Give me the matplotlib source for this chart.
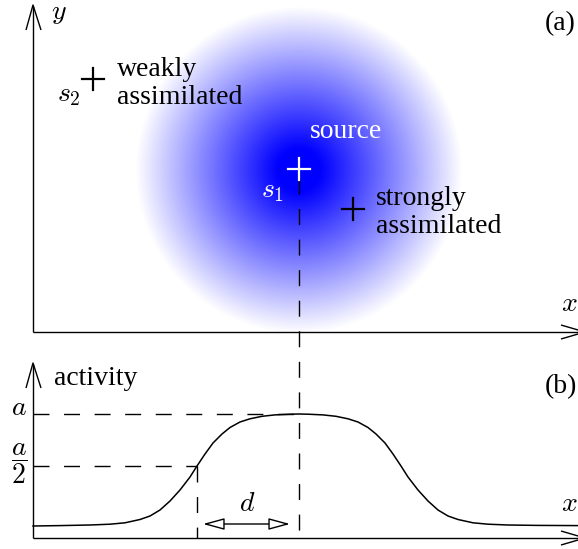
import numpy as np
import matplotlib.pyplot as plt
from matplotlib.patches import FancyArrowPatch

plt.rcParams['font.family'] = ['Liberation Serif', 'DejaVu Serif']
plt.rcParams['mathtext.fontset'] = 'cm'

W, H = 578, 549   # canvas units = pixels, y grows downwards

# ---- panel (a): source blob and the two samples
source_x, source_y = 299, 170
source_radius = 164
source_core = 22

cross_x = [299, 93, 353]
cross_y = [169, 79, 209]
cross_colors = ['white', 'black', 'black']

# ---- panel (b): activity profile
profile_x = [33, 60, 90, 110, 125, 140, 150, 160, 170, 180, 190, 197, 205, 213, 222, 230, 240, 250, 262,
             275, 290, 299, 308, 323, 336, 348, 358, 368, 376, 385, 393, 401, 408, 418, 428, 438, 448,
             458, 473, 488, 508, 538, 578]
profile_y = [526, 525.6, 525, 524.2, 522.8, 519.5, 516, 510, 501, 490, 477, 466, 454, 443, 434, 427.5,
             422, 418.8, 416.3, 414.9, 414.2, 414, 414.2, 414.9, 416.3, 418.8, 422, 427.5, 434, 443,
             454, 466, 477, 490, 501, 510, 516, 519.5, 522.8, 524.2, 525, 525.4, 525.6]

level_a = 414
level_half = 466
half_x = 197
d_start, d_end, d_level = 203, 290, 524

fig = plt.figure(figsize=(W / 100, H / 100), dpi=100)
ax = fig.add_axes([0, 0, 1, 1])

# radial shading of the source
n = 400
g = np.linspace(-1, 1, n)
gx, gy = np.meshgrid(g, g)
r = np.hypot(gx, gy) * source_radius
alpha = np.clip((source_radius - r) / (source_radius - source_core), 0, 1)
img = np.zeros((n, n, 4))
img[..., 2] = 1.0
img[..., 3] = alpha
ax.imshow(img, extent=(source_x - source_radius, source_x + source_radius,
                       source_y + source_radius, source_y - source_radius),
          interpolation='bilinear', zorder=0, aspect='auto')

ax.set_xlim(0, W)
ax.set_ylim(H, 0)
ax.axis('off')

lw = 1.0
k = dict(color='black', lw=lw, solid_capstyle='butt', zorder=3)
# axes of (a)
ax.plot([33, 33], [332, 6], **k)
ax.plot([33, 585], [332, 332], **k)
ax.plot([26, 33, 41], [30, 5, 30], **k)
ax.plot([561, 585, 561], [325, 332, 339], **k)
# axes of (b)
ax.plot([33, 33], [538, 364], **k)
ax.plot([33, 585], [538, 538], **k)
ax.plot([26, 33, 41], [388, 363, 388], **k)
ax.plot([561, 585, 561], [531, 538, 545], **k)

dash = dict(color='black', lw=lw, dashes=(11.5, 10.5), zorder=2)
ax.plot([source_x, source_x], [178, 538], **dash)
ax.plot([33, source_x], [level_a, level_a], **dash)
ax.plot([33, half_x], [level_half, level_half], **dash)
ax.plot([half_x, half_x], [level_half, 538], **dash)

ax.plot(profile_x, profile_y, color='black', lw=1.1, zorder=3)

arm = 11
for cx, cy, c in zip(cross_x, cross_y, cross_colors):
    ax.plot([cx - arm, cx + arm], [cy, cy], color=c, lw=1.6, zorder=4)
    ax.plot([cx, cx], [cy - arm, cy + arm], color=c, lw=1.6, zorder=4)

ax.add_patch(FancyArrowPatch((d_start, d_level), (d_end, d_level),
                             arrowstyle='<|-|>,head_length=2.2,head_width=0.6',
                             mutation_scale=6, fc='white', ec='black', lw=1.0,
                             shrinkA=0, shrinkB=0, zorder=3))

fs = 20
t = dict(fontsize=fs, va='baseline', ha='left', zorder=5)
ax.text(117, 76, 'weakly', **t)
ax.text(117, 104, 'assimilated', **t)
ax.text(376, 205, 'strongly', **t)
ax.text(376, 233, 'assimilated', **t)
ax.text(310, 138, 'source', color='white', **t)
ax.text(545, 30, '(a)', **t)
ax.text(545, 393, '(b)', **t)
ax.text(54, 385, 'activity', **t)

ax.text(51, 19, '$y$', **t)
ax.text(561, 311, '$x$', **t)
ax.text(561, 511, '$x$', **t)
ax.text(57, 101, '$s_2$', **t)
ax.text(261, 197, '$s_1$', color='white', **t)
ax.text(239, 511, '$d$', **t)
ax.text(11, 415, '$a$', **t)
ax.text(19, 464, r'$\dfrac{a}{2}$', fontsize=fs, ha='center', va='center', zorder=5)

fig.savefig('out.png', dpi=100)
